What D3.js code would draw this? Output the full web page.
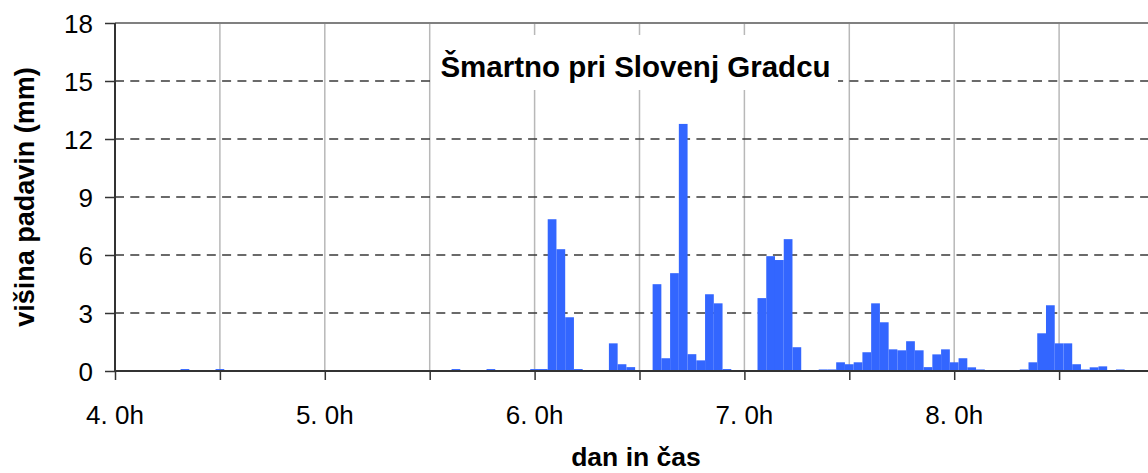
<!DOCTYPE html>
<html>
<head>
<meta charset="utf-8">
<script src="https://cdn.jsdelivr.net/npm/d3@7"></script>
<style>
  html, body { margin: 0; padding: 0; background: #fff; overflow: hidden; }
  svg { display: block; font-family: "Liberation Sans", Arial, Helvetica, sans-serif; }
</style>
</head>
<body>
<svg id="chart" width="1148" height="473"></svg>
<script>
// Hour offsets from day 4, 0h (one bar per hour) and precipitation in mm
const hourOffsets = [8, 12, 39, 43, 48, 49, 50, 51, 52, 53, 57, 58, 59,
  62, 63, 64, 65, 66, 67, 68, 69, 70,
  74, 75, 76, 77, 78,
  81, 82, 83, 84, 85, 86, 87, 88, 89, 90, 91, 92, 93, 94, 95, 96, 97, 98, 99,
  104, 105, 106, 107, 108, 109, 110, 111, 112, 113, 115];
const precipitation = [0.1, 0.1, 0.1, 0.1, 0.1, 0.1, 7.85, 6.3, 2.78, 0.1, 1.43, 0.35, 0.2,
  4.49, 0.66, 5.06, 12.78, 0.87, 0.55, 3.97, 3.5, 0.1,
  3.77, 5.94, 5.74, 6.82, 1.23,
  0.08, 0.08, 0.45, 0.35, 0.45, 0.97, 3.5, 2.52, 1.12, 1.07, 1.54, 1.07, 0.2, 0.86, 1.12, 0.45, 0.66, 0.19, 0.08,
  0.08, 0.45, 1.95, 3.4, 1.43, 1.43, 0.35, 0.08, 0.19, 0.24, 0.08];
const dayTicks = [4, 5, 6, 7, 8];
const dayTickLabels = ["4. 0h", "5. 0h", "6. 0h", "7. 0h", "8. 0h"];
const halfDayTicks = [4, 4.5, 5, 5.5, 6, 6.5, 7, 7.5, 8, 8.5];
const yTicks = [0, 3, 6, 9, 12, 15, 18];
const chartTitle = "Šmartno pri Slovenj Gradcu";
const yTitle = "višina padavin (mm)";
const xTitle = "dan in čas";

const svg = d3.select("#chart");
const plotLeft = 115, plotTop = 23, plotBottom = 371;
const x = d3.scaleLinear().domain([4, 9]).range([plotLeft, plotLeft + 5 * 209.8]);
const y = d3.scaleLinear().domain([0, 18]).range([plotBottom, plotTop]);
const barW = (x(5) - x(4)) / 24;

// vertical gridlines
svg.append("g").selectAll("line").data(halfDayTicks.filter(d => d > 4)).join("line")
  .attr("x1", d => x(d)).attr("x2", d => x(d))
  .attr("y1", plotTop).attr("y2", plotBottom)
  .attr("stroke", "#b8b8b8").attr("stroke-width", 1.5);

// horizontal dashed gridlines
svg.append("g").selectAll("line").data(yTicks.filter(d => d > 0 && d < 18)).join("line")
  .attr("x1", plotLeft).attr("x2", 1148)
  .attr("y1", d => y(d)).attr("y2", d => y(d))
  .attr("stroke", "#3a3a3a").attr("stroke-width", 1.5)
  .attr("stroke-dasharray", "9,6.3");

// top border
svg.append("line").attr("x1", plotLeft).attr("x2", 1148)
  .attr("y1", y(18)).attr("y2", y(18))
  .attr("stroke", "#808080").attr("stroke-width", 2);

// bars
const data = hourOffsets.map((h, i) => ({ t: 4 + h / 24, v: precipitation[i] }));
svg.append("g").selectAll("rect").data(data).join("rect")
  .attr("x", d => x(d.t) - barW / 2)
  .attr("width", barW)
  .attr("y", d => y(d.v))
  .attr("height", d => y(0) - y(d.v))
  .attr("fill", "#3366ff");

// title box + title
svg.append("rect").attr("x", 431).attr("y", 35).attr("width", 407).attr("height", 55)
  .attr("fill", "#fff");
svg.append("text").attr("x", 635.5).attr("y", 76.5)
  .attr("text-anchor", "middle").attr("font-weight", "bold").attr("font-size", 29.5)
  .attr("fill", "#000").text(chartTitle);

// y axis
const yAxis = d3.axisLeft(y).tickValues(yTicks).tickSize(10).tickPadding(12);
const gy = svg.append("g").attr("transform", `translate(${plotLeft},0)`).call(yAxis);
gy.select(".domain").attr("stroke", "#333").attr("stroke-width", 2).attr("d", `M0,${plotTop}V${plotBottom}`);
gy.selectAll(".tick line").attr("stroke", "#333").attr("stroke-width", 1.5);
gy.selectAll(".tick text").attr("font-size", 26).attr("fill", "#000")
  .attr("font-family", "'Liberation Sans', Arial, sans-serif").attr("dy", "0.36em");

// x axis
const xAxis = d3.axisBottom(x).tickValues(halfDayTicks).tickSize(9).tickFormat(() => "");
const gx = svg.append("g").attr("transform", `translate(0,${plotBottom})`).call(xAxis);
gx.select(".domain").attr("stroke", "#333").attr("stroke-width", 2).attr("d", `M${plotLeft},0H1148`);
gx.selectAll(".tick line").attr("stroke", "#333").attr("stroke-width", 1.5);

svg.append("g").selectAll("text").data(dayTicks).join("text")
  .attr("x", d => x(d)).attr("y", 424)
  .attr("text-anchor", "middle").attr("font-size", 26).attr("fill", "#000")
  .text((d, i) => dayTickLabels[i]);

// axis titles
svg.append("text").attr("transform", "translate(34,197) rotate(-90)")
  .attr("text-anchor", "middle").attr("font-weight", "bold").attr("font-size", 27)
  .attr("fill", "#000").text(yTitle);
svg.append("text").attr("x", 636).attr("y", 466)
  .attr("text-anchor", "middle").attr("font-weight", "bold").attr("font-size", 26.5)
  .attr("fill", "#000").text(xTitle);
</script>
</body>
</html>
